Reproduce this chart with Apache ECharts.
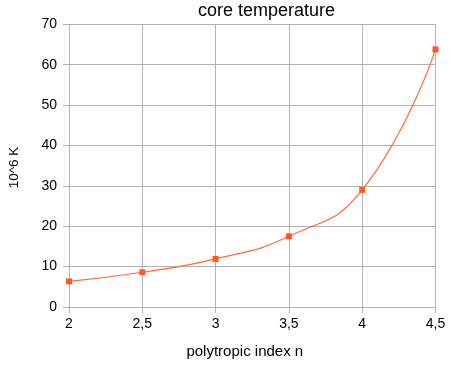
<!DOCTYPE html>
<html>
<head>
<meta charset="utf-8">
<script src="https://cdn.jsdelivr.net/npm/echarts@6/dist/echarts.min.js"></script>
<style>html,body{margin:0;padding:0;background:#fff}#c{width:452px;height:365px}</style>
</head>
<body>
<div id="c"></div>
<script>
const titleText = 'core temperature';
const xName = 'polytropic index n';
const yName = '10^6 K';
const nValues = [2, 2.5, 3, 3.5, 4, 4.5];
const coreTemp = [6.35, 8.6, 11.9, 17.5, 29.0, 63.8];

const chart = echarts.init(document.getElementById('c'));
const font = '"Liberation Sans", Arial, sans-serif';
const gridColor = '#b3b3b3';
chart.setOption({
  animation: false,
  backgroundColor: '#fff',
  title: {
    text: titleText, left: 198, top: 2, padding: 0,
    textStyle: {fontFamily: font, fontSize: 18, fontWeight: 'normal', color: '#000'}
  },
  grid: {left: 69, right: 16.5, top: 24.3, bottom: 58},
  xAxis: {
    type: 'value', min: 2, max: 4.5, interval: 0.5,
    axisLine: {show: true, lineStyle: {color: gridColor}},
    axisTick: {show: true, length: 6, lineStyle: {color: gridColor}},
    splitLine: {show: true, lineStyle: {color: gridColor}},
    axisLabel: {
      fontFamily: font, fontSize: 14, color: '#000', margin: 10,
      formatter: v => String(v).replace('.', ',')
    }
  },
  yAxis: {
    type: 'value', min: 0, max: 70, interval: 10,
    axisLine: {show: true, lineStyle: {color: gridColor}},
    axisTick: {show: true, length: 6, lineStyle: {color: gridColor}},
    splitLine: {show: true, lineStyle: {color: gridColor}},
    axisLabel: {fontFamily: font, fontSize: 14, color: '#000', margin: 12}
  },
  graphic: [
    {type: 'text', x: 244.8, y: 352, style: {text: xName, font: '15px ' + font, fill: '#000', align: 'center', verticalAlign: 'middle'}},
    {type: 'text', x: 14.5, y: 167.5, rotation: Math.PI / 2, style: {text: yName, font: '13.5px ' + font, fill: '#000', align: 'center', verticalAlign: 'middle'}}
  ],
  series: [{
    type: 'line',
    data: nValues.map((n, i) => [n, coreTemp[i]]),
    smooth: 0.5,
    symbol: 'rect', symbolSize: 6,
    lineStyle: {color: '#ff6a3a', width: 1.2},
    itemStyle: {color: '#ff5a22'}
  }]
});
</script>
</body>
</html>
